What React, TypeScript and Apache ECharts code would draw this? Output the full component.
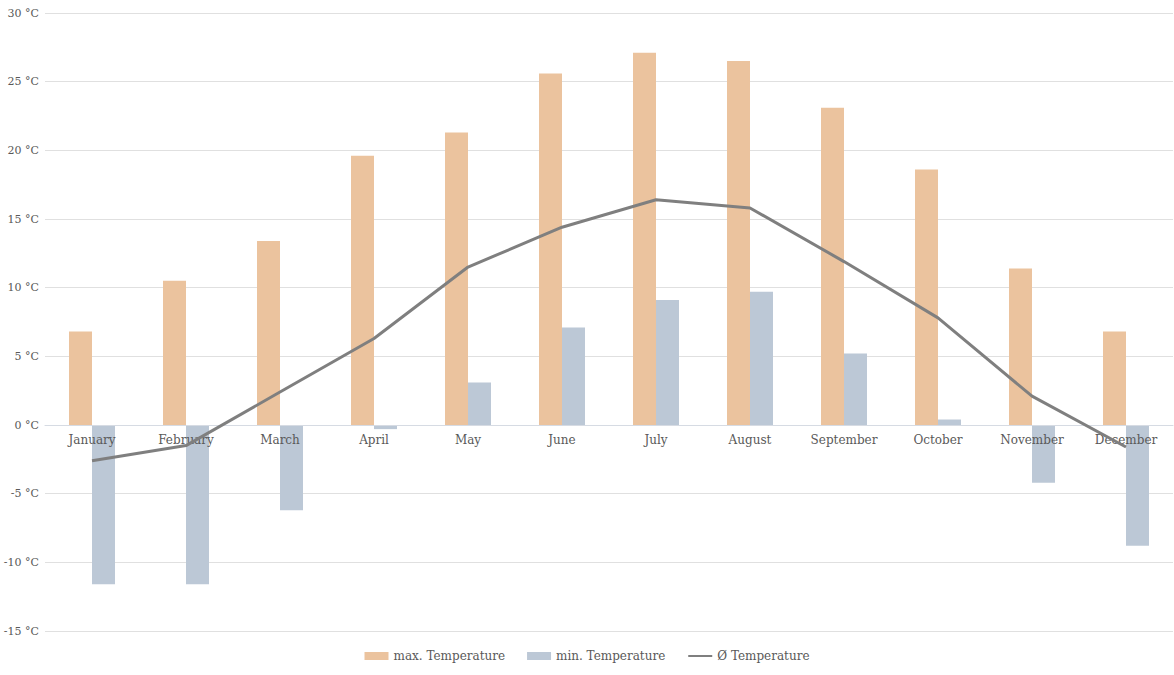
import React, { useEffect, useRef } from "react";
import * as echarts from "echarts";

const months = ["January", "February", "March", "April", "May", "June", "July", "August", "September", "October", "November", "December"];
const maxTemp = [6.8, 10.5, 13.4, 19.6, 21.3, 25.6, 27.1, 26.5, 23.1, 18.6, 11.4, 6.8];
const minTemp = [-11.6, -11.6, -6.2, -0.3, 3.1, 7.1, 9.1, 9.7, 5.2, 0.4, -4.2, -8.8];
const avgTemp = [-2.6, -1.5, 2.4, 6.3, 11.5, 14.4, 16.4, 15.8, 11.9, 7.8, 2.1, -1.6];

const FONT = "DejaVu Serif";
const TEXT = "#595959";

export default function App() {
  const ref = useRef<HTMLDivElement>(null);
  useEffect(() => {
    const chart = echarts.init(ref.current!, null, { renderer: "svg" });
    chart.setOption({
      animation: false,
      textStyle: { fontFamily: FONT },
      grid: { left: 45, right: 1, top: 13, bottom: 44, containLabel: false, outerBoundsMode: "none" },
      legend: {
        bottom: 8,
        left: "center",
        itemGap: 22,
        itemWidth: 24,
        itemHeight: 8,
        textStyle: { fontFamily: FONT, fontSize: 12, color: TEXT },
        data: [
          { name: "max. Temperature", icon: "rect" },
          { name: "min. Temperature", icon: "rect" },
          { name: "Ø Temperature", itemStyle: { opacity: 0 } },
        ],
      },
      xAxis: {
        type: "category",
        data: months,
        offset: -206,
        z: 3,
        axisLine: { show: true, onZero: false, lineStyle: { color: "#d6dbe3", width: 1 } },
        axisTick: { show: false },
        axisLabel: { color: TEXT, fontFamily: FONT, fontSize: 12, margin: 9 },
      },
      yAxis: {
        type: "value",
        min: -15,
        max: 30,
        interval: 5,
        axisLine: { show: false },
        axisTick: { show: false },
        splitLine: { lineStyle: { color: "#e0e0e0" } },
        axisLabel: { color: TEXT, fontFamily: FONT, fontSize: 11, margin: 6, formatter: "{value} °C" },
      },
      series: [
        {
          name: "max. Temperature",
          type: "bar",
          data: maxTemp,
          barWidth: 23,
          barGap: "0%",
          itemStyle: { color: "#ebc39e" },
        },
        {
          name: "min. Temperature",
          type: "bar",
          data: minTemp,
          barWidth: 23,
          barGap: "0%",
          itemStyle: { color: "#bcc8d6" },
        },
        {
          name: "Ø Temperature",
          type: "line",
          data: avgTemp,
          symbol: "none",
          lineStyle: { color: "#7f7f7f", width: 3 },
          itemStyle: { color: "#7f7f7f" },
          z: 5,
        },
      ],
    });
    return () => chart.dispose();
  }, []);
  return <div ref={ref} style={{ width: 1174, height: 675, position: "absolute", left: 0, top: 0 }} />;
}
